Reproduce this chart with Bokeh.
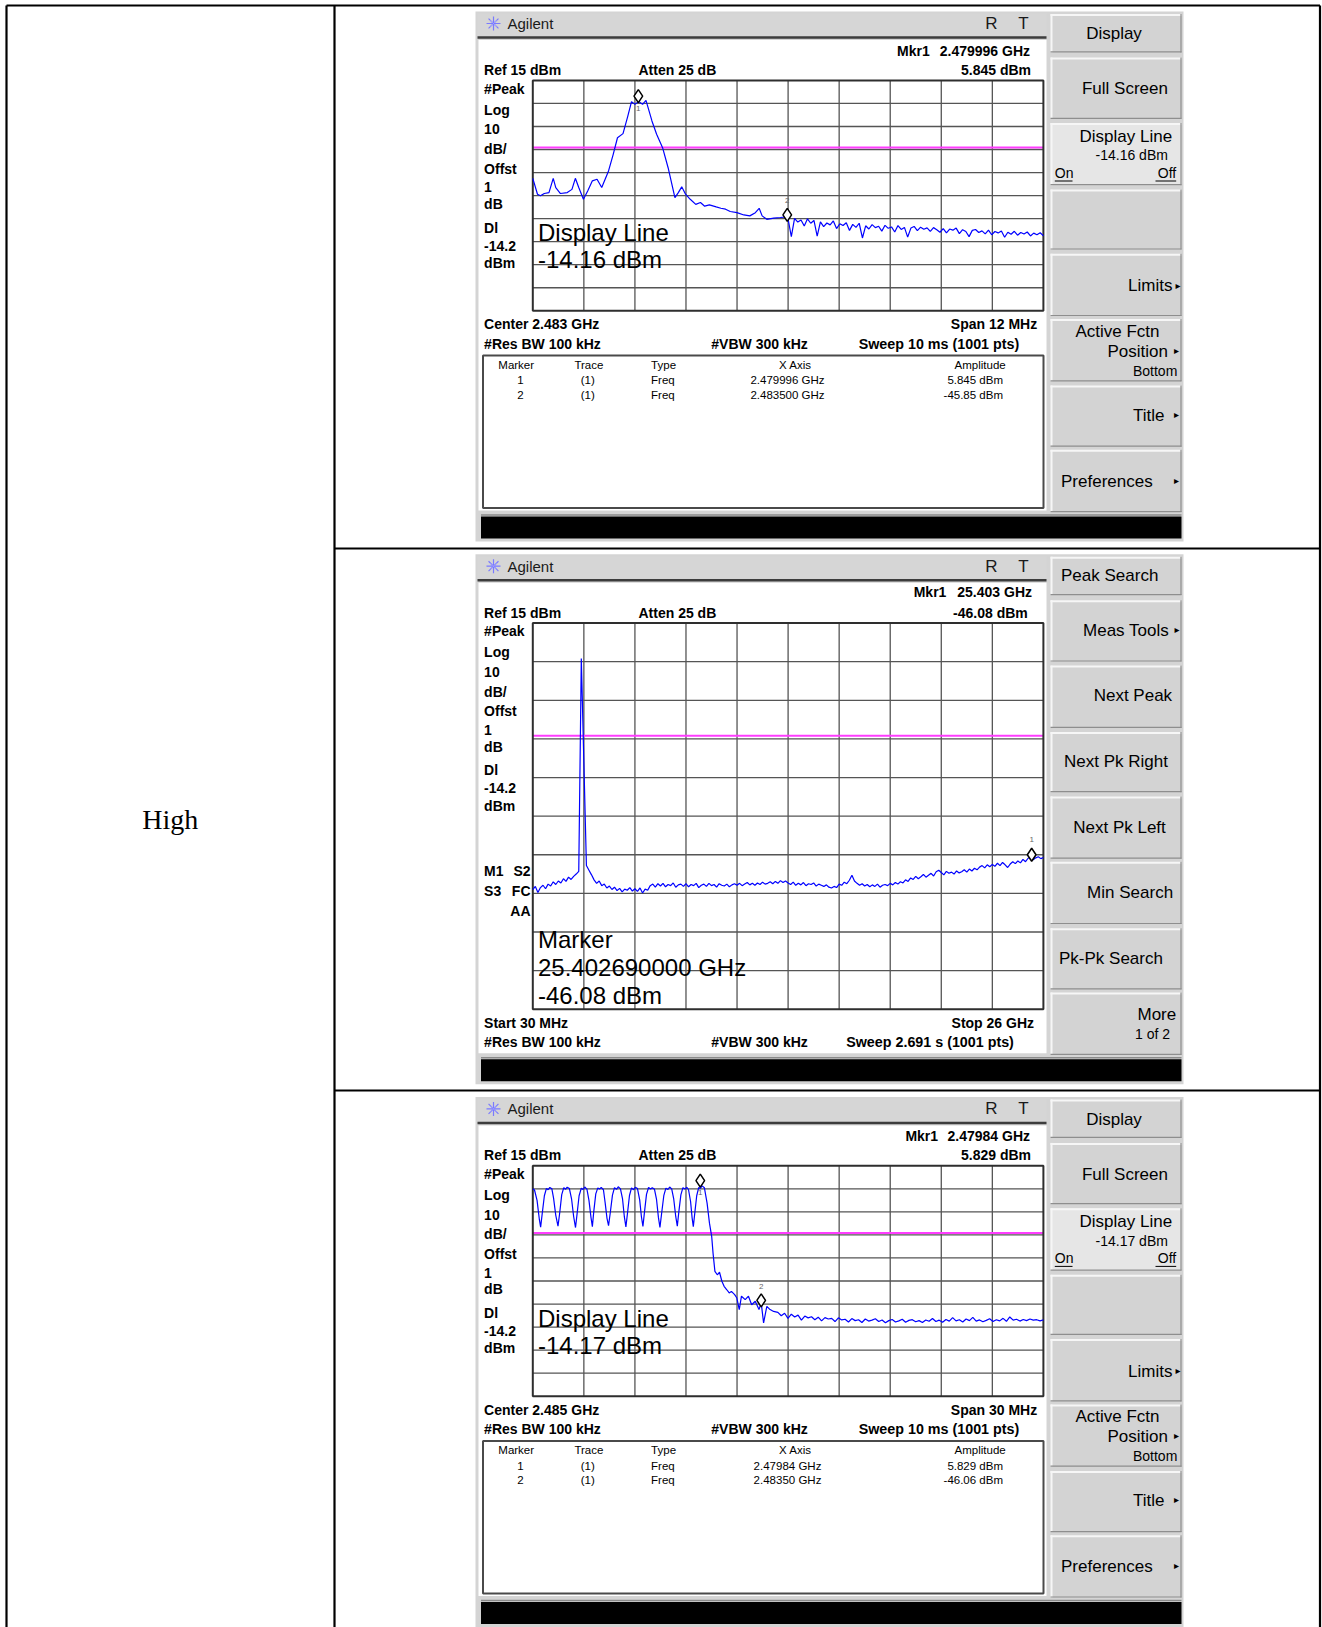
import numpy as np
from bokeh.plotting import figure
from bokeh.models import Range1d
from bokeh.core.properties import value
from bokeh.embed import file_html
from bokeh.resources import INLINE

# ======================= DATA =======================
REF_LEVEL_DBM = 15
DB_PER_DIV = 10
N_DIV = 10

# ---- Panel 1 : Center 2.483 GHz, Span 12 MHz ----
p1_start_mhz, p1_stop_mhz = 2477.0, 2489.0
p1_freq_mhz = [
    2477.00, 2477.11, 2477.18, 2477.27, 2477.38, 2477.48, 2477.54, 2477.65, 2477.81, 2477.92,
    2478.00, 2478.08, 2478.19, 2478.29, 2478.40, 2478.51, 2478.62, 2478.78, 2478.89, 2478.99,
    2479.12, 2479.23, 2479.32, 2479.40, 2479.49, 2479.58, 2479.66, 2479.80, 2479.91, 2480.05,
    2480.18, 2480.34, 2480.42, 2480.50, 2480.59, 2480.70, 2480.83, 2480.94, 2481.04, 2481.15,
    2481.31, 2481.42, 2481.53, 2481.64, 2481.80, 2481.96, 2482.10, 2482.23, 2482.32, 2482.39,
    2482.50, 2482.66, 2482.82, 2482.96]
p1_dbm = [
    -27.5, -34.4, -35.1, -34.1, -33.7, -27.5, -31.5, -34.1, -33.7, -32.3,
    -27.5, -31.5, -36.6, -33.0, -28.6, -27.9, -31.5, -24.3, -17.1, -9.9,
    -8.1, -0.7, 5.8, 4.6, 5.8, 4.6, 6.3, -2.6, -8.4, -14.2,
    -22.9, -35.9, -33.7, -31.2, -34.4, -36.6, -38.8, -38.0, -39.6, -39.0,
    -39.9, -40.5, -40.9, -41.9, -42.4, -43.4, -43.8, -42.4, -40.5, -43.8,
    -45.3, -44.8, -44.5, -44.2]
p1_tail_start_mhz, p1_tail_stop_mhz = 2483.0, 2489.0
p1_tail_dbm = [
    -45.2, -52.8, -44.9, -46.5, -45.6, -48.2, -45.1, -47.0, -45.8, -52.6,
    -46.4, -48.5, -46.9, -47.7, -46.0, -49.3, -47.2, -48.0, -46.8, -50.1,
    -47.5, -48.8, -47.0, -53.4, -48.1, -49.5, -47.6, -48.9, -48.3, -50.4,
    -47.9, -49.2, -48.6, -50.8, -48.0, -49.7, -48.8, -53.0, -49.1, -48.4,
    -50.2, -48.7, -49.6, -49.0, -50.5, -48.9, -49.8, -50.9, -49.3, -51.2,
    -49.5, -50.0, -49.1, -51.5, -49.8, -50.6, -52.8, -50.1, -49.7, -51.0,
    -50.3, -51.6, -50.0, -52.0, -50.6, -51.2, -50.4, -53.1, -50.9, -51.8,
    -50.5, -52.2, -51.0, -51.7, -50.8, -52.5, -51.3, -52.0, -51.1, -52.4]
p1_display_line_dbm = -14.16
p1_marker_freq_mhz = [2479.48, 2482.98]
p1_marker_dbm = [8.2, -43.4]
p1_marker_ids = ["1", "2"]
p1_table = [["1", "(1)", "Freq", "2.479996 GHz", "5.845 dBm"],
            ["2", "(1)", "Freq", "2.483500 GHz", "-45.85 dBm"]]

# ---- Panel 2 : Start 30 MHz, Stop 26 GHz ----
p2_start_mhz, p2_stop_mhz = 30.0, 26000.0
p2_dbm = [
    -54.0, -53.2, -54.8, -53.5, -52.9, -53.8, -52.6, -53.1, -52.0, -52.7,
    -51.8, -52.3, -51.2, -51.9, -50.8, -51.4, -50.6, -50.0, -49.3, 5.8,
    -21.0,
    -47.8, -49.0, -50.2, -51.5, -52.4, -51.8, -53.0, -52.6, -53.6, -53.1,
    -54.0, -53.4, -54.3, -53.7, -54.6, -53.9, -54.2, -53.5, -54.4,
    -53.8, -54.5, -53.6, -54.9, -53.9, -54.2, -53.0, -52.6, -53.4, -52.5,
    -53.1, -52.4, -53.3, -52.7, -53.0, -52.3, -53.4, -52.8, -52.6, -53.2,
    -52.5, -53.3, -52.7, -53.0, -52.4, -53.5, -52.9, -52.6, -53.2, -52.4,
    -53.0, -52.7, -53.4, -52.5, -52.9, -53.1, -52.6, -53.3, -52.8, -52.5,
    -52.9, -52.4, -53.0, -52.6, -52.2, -52.8, -52.4, -52.9, -52.3, -52.7,
    -52.1, -52.6, -52.4, -52.0, -52.5, -51.9, -52.4, -51.7, -52.2, -51.8,
    -52.3, -52.7, -52.1, -52.9, -52.4, -52.8, -52.2, -53.0, -52.5, -52.7,
    -52.3, -53.1, -52.6, -52.9, -53.2, -52.8, -53.4, -53.6, -53.2, -53.5,
    -52.6, -52.9, -52.1, -52.5, -51.6, -50.3, -51.8, -52.4, -52.9, -52.5,
    -53.1, -52.7, -53.3, -52.8, -53.2, -52.6, -53.4, -52.9, -52.7, -53.0,
    -52.4, -52.8, -52.2, -52.6, -52.0, -52.3, -51.5, -51.9, -51.0, -51.4,
    -50.6, -51.2, -50.7, -50.1, -50.8, -50.3, -49.8, -50.5, -49.4, -49.0,
    -49.6, -50.2, -49.3, -49.8, -49.5, -50.0, -49.2, -49.7, -49.4, -48.9,
    -49.5, -48.7, -49.2, -48.5, -48.9, -48.2, -47.8, -48.4, -47.6, -48.1,
    -47.5, -48.0, -47.2, -47.8, -47.0, -47.6, -48.3, -47.4, -46.8, -47.3,
    -46.6, -47.1, -46.2, -46.8, -45.9, -45.6, -46.3, -45.8, -45.5, -46.0, -45.7]
p2_display_line_dbm = -14.2
p2_marker_freq_mhz = [25403.0]
p2_marker_dbm = [-45.0]
p2_marker_ids = ["1"]

# ---- Panel 3 : Center 2.485 GHz, Span 30 MHz ----
p3_start_mhz, p3_stop_mhz = 2470.0, 2500.0
p3_freq_mhz = [
    2470.00, 2470.10, 2470.25, 2470.38, 2470.46, 2470.55, 2470.68, 2470.80, 2470.90, 2471.00,
    2471.12, 2471.22, 2471.35, 2471.48, 2471.58, 2471.70, 2471.82, 2471.92, 2472.02, 2472.15,
    2472.28, 2472.40, 2472.51, 2472.60, 2472.72, 2472.85, 2472.95, 2473.05, 2473.18, 2473.30,
    2473.42, 2473.50, 2473.58, 2473.70, 2473.82, 2473.92, 2474.02, 2474.15, 2474.25, 2474.36,
    2474.45, 2474.55, 2474.68, 2474.80, 2474.92, 2475.02, 2475.15, 2475.27, 2475.38, 2475.47,
    2475.56, 2475.68, 2475.80, 2475.92, 2476.02, 2476.15, 2476.28, 2476.38, 2476.47, 2476.56,
    2476.68, 2476.80, 2476.92, 2477.02, 2477.15, 2477.27, 2477.38, 2477.47, 2477.57, 2477.70,
    2477.82, 2477.94, 2478.04, 2478.16, 2478.28, 2478.40, 2478.49, 2478.58, 2478.70, 2478.82,
    2478.94, 2479.05, 2479.15, 2479.27, 2479.36, 2479.43, 2479.52, 2479.63, 2479.75, 2479.84,
    2479.95, 2480.08, 2480.24, 2480.38, 2480.51, 2480.59, 2480.70, 2480.84, 2480.97, 2481.11,
    2481.24, 2481.40, 2481.54, 2481.67, 2481.86, 2481.99, 2482.13, 2482.26, 2482.48, 2482.67,
    2482.86, 2483.07, 2483.29, 2483.42, 2483.56, 2483.75, 2483.94, 2484.15]
p3_dbm = [
    5.0, 4.5, 0.0, -8.0, -11.6, -6.0, 2.0, 5.2, 4.6, 5.6,
    5.0, 1.0, -6.5, -11.2, -5.5, 2.5, 5.5, 4.8, 5.7, 5.1,
    0.5, -7.0, -11.8, -6.0, 2.0, 5.3, 4.7, 5.8, 4.9, 0.0,
    -7.5, -11.4, -5.0, 2.8, 5.4, 4.9, 5.6, 4.6, -1.0, -7.8,
    -11.0, -5.5, 2.3, 5.5, 4.8, 5.9, 5.0, 0.8, -7.2, -11.5,
    -5.8, 2.1, 5.4, 4.6, 5.7, 5.1, 0.2, -7.0, -11.3, -5.2,
    2.6, 5.6, 4.9, 5.5, 4.8, 0.4, -7.4, -11.7, -5.6, 2.2,
    5.3, 4.7, 5.8, 5.0, 0.6, -7.1, -11.2, -5.0, 2.4, 5.5,
    4.9, 5.7, 4.6, -0.5, -7.6, -11.4, -5.3, 2.0, 5.6, 5.2,
    6.3, 5.5, -1.2, -9.9, -15.6, -22.9, -30.8, -32.3, -31.2, -35.1,
    -37.3, -38.8, -40.2, -39.5, -40.9, -42.4, -47.4, -41.6, -43.1, -41.6,
    -45.3, -43.8, -47.4, -44.5, -53.2, -46.0, -47.4, -48.2]
p3_tail_start_mhz, p3_tail_stop_mhz = 2484.4, 2500.0
p3_tail_dbm = [
    -48.6, -50.1, -49.0, -51.2, -49.4, -50.6, -49.8, -52.0, -50.2, -51.0,
    -50.5, -51.8, -50.7, -52.3, -50.9, -51.5, -51.2, -52.6, -51.0, -51.9,
    -51.6, -52.8, -51.3, -52.2, -51.8, -53.0, -51.5, -52.4, -52.0, -51.4,
    -52.6, -51.9, -53.1, -52.2, -51.7, -52.8, -52.3, -51.6, -52.9, -52.1,
    -51.8, -52.7, -52.2, -53.0, -51.9, -52.5, -51.3, -52.6, -52.0, -52.9,
    -51.7, -52.4, -50.9, -52.3, -51.8, -52.8, -51.5, -52.2, -50.8, -52.4,
    -51.9, -52.7, -52.1, -51.4, -52.6, -51.8, -52.3, -51.2, -52.5, -50.6,
    -52.0, -51.6, -52.4, -51.7, -52.2, -51.5, -52.0, -51.8, -52.3, -51.9]
p3_display_line_dbm = -14.17
p3_marker_freq_mhz = [2479.84, 2483.42]
p3_marker_dbm = [8.6, -43.4]
p3_marker_ids = ["1", "2"]
p3_table = [["1", "(1)", "Freq", "2.47984 GHz", "5.829 dBm"],
            ["2", "(1)", "Freq", "2.48350 GHz", "-46.06 dBm"]]

assert len(p1_freq_mhz) == len(p1_dbm)
assert len(p3_freq_mhz) == len(p3_dbm)

# ======================= LAYOUT =======================
W, H = 1322, 1627
SANS = "Liberation Sans"
SERIF = "Liberation Serif"

p = figure(width=W, height=H, x_range=Range1d(0, W), y_range=Range1d(H, 0),
           output_backend="svg", toolbar_location=None, min_border=0,
           x_axis_location=None, y_axis_location=None,
           margin=(0, 0, 0, 0))
p.xgrid.visible = False
p.ygrid.visible = False
p.outline_line_color = None
p.background_fill_color = "white"
p.border_fill_color = "white"


def Q(l, r, t, b, fill, line=None, lw=1):
    p.quad(left=[l], right=[r], top=[t], bottom=[b], fill_color=fill,
           line_color=line, line_width=lw)


def S(x0, y0, x1, y1, color, lw=1):
    p.segment(x0=[x0], y0=[y0], x1=[x1], y1=[y1], line_color=color, line_width=lw)


def T(x, y, s, size=14, align="left", bold=False, font=SANS, color="#000000",
      baseline="middle"):
    p.text(x=[x], y=[y], text=[s], text_font=value(font),
           text_font_size=f"{size}px",
           text_font_style="bold" if bold else "normal",
           text_align=align, text_baseline=baseline, text_color=color)


GX0, GX1 = 532.3, 1042.9
KX0, KX1 = 1050, 1181
KEYS = [(13.5, 51.9), (57, 118.3), (122.4, 184.7), (188.9, 249), (253.2, 315.5),
        (318.6, 380.8), (385, 446.2), (449.3, 511.6)]
LEFT_LABELS = ["#Peak", "Log", "10", "dB/", "Offst", "1", "dB", "Dl", "-14.2", "dBm"]
LEFT_LABEL_Y = [88, 109, 128.7, 148.4, 168, 186.8, 203.4, 227, 245, 262.5]


def set_ranges(name, f0, f1, gy0, gy1):
    sx = (f1 - f0) / (GX1 - GX0)
    p.extra_x_ranges[name] = Range1d(f0 - GX0 * sx, f0 + (W - GX0) * sx)
    top = REF_LEVEL_DBM
    bot = REF_LEVEL_DBM - N_DIV * DB_PER_DIV
    sy = (top - bot) / (gy1 - gy0)
    p.extra_y_ranges[name] = Range1d(top - (H - gy0) * sy, top + gy0 * sy)


def draw_grid(name, f0, f1, dl):
    top = REF_LEVEL_DBM
    bot = REF_LEVEL_DBM - N_DIV * DB_PER_DIV
    xs = [f0 + i * (f1 - f0) / N_DIV for i in range(1, N_DIV)]
    ys = [top - i * DB_PER_DIV for i in range(1, N_DIV)]
    kw = dict(x_range_name=name, y_range_name=name)
    p.segment(x0=xs, x1=xs, y0=[top] * len(xs), y1=[bot] * len(xs),
              line_color="#555555", line_width=1.3, **kw)
    p.segment(x0=[f0] * len(ys), x1=[f1] * len(ys), y0=ys, y1=ys,
              line_color="#555555", line_width=1.3, **kw)
    p.segment(x0=[f0], x1=[f1], y0=[dl], y1=[dl], line_color="#ff3cff",
              line_width=2, **kw)
    p.quad(left=[f0], right=[f1], top=[top], bottom=[bot], fill_color=None,
           line_color="#2e2e2e", line_width=2, **kw)


def draw_trace(name, freqs, dbms, mk_f, mk_d, mk_ids, mk_offsets):
    kw = dict(x_range_name=name, y_range_name=name)
    p.line(freqs, dbms, line_color="#0000ff", line_width=1.2, **kw)
    p.scatter(mk_f, mk_d, marker="diamond", size=13, fill_color="white",
              line_color="black", line_width=1.5, **kw)
    for f, d, s, o in zip(mk_f, mk_d, mk_ids, mk_offsets):
        p.text(x=[f], y=[d], text=[s], text_font=value(SANS), text_font_size="8px",
               text_align="center", text_baseline="middle", text_color="#666666",
               y_offset=o, **kw)


def draw_frame(off):
    Q(475, 1183, 11 + off, min(541 + off, H), "#d4d4d4")
    Q(477, 1046, 13 + off, 35.5 + off, "#d6d6d6")
    S(477, 37 + off, 1046, 37 + off, "#3c3c3c", 2.5)
    Q(478, 1046, 39.5 + off, 510 + off, "white")
    Q(480.5, 1181, 516 + off, 538 + off, "#000000")
    S(480.5, 514.5 + off, 1181, 514.5 + off, "#8a8a8a", 1.5)
    # Agilent title bar
    p.scatter([493], [23 + off], marker="asterisk", size=14, line_color="#7a7aff", line_width=1.2)
    p.scatter([493], [23 + off], marker="x", size=9, line_color="#a0a0ff", line_width=1)
    T(507, 23 + off, "Agilent", 15, color="#1a1a1a")
    T(991, 23 + off, "R", 17, "center", color="#1a1a1a")
    T(1023, 23 + off, "T", 17, "center", color="#1a1a1a")
    T(483.6, 69.5 + off, "Ref 15 dBm", 14, bold=True)
    T(638, 69.5 + off, "Atten 25 dB", 14, bold=True)
    for s, y in zip(LEFT_LABELS, LEFT_LABEL_Y):
        T(483.6, y + off, s, 14, bold=True)


def draw_keys(off, light_idx=None):
    for i, (a, b) in enumerate(KEYS):
        y0, y1 = a + off, min(b + off, H)
        fill = "#e6e6e6" if i == light_idx else "#d3d3d3"
        Q(KX0, KX1, y0, y1, fill)
        p.segment(x0=[KX0, KX0 + 1], y0=[y0 + 1, y0], x1=[KX1, KX0 + 1], y1=[y0 + 1, y1],
                  line_color="#f6f6f6", line_width=2)
        p.segment(x0=[KX0, KX1 - 0.5], y0=[y1 - 0.5, y0], x1=[KX1, KX1 - 0.5], y1=[y1 - 0.5, y1],
                  line_color="#8e8e8e", line_width=1.2)


def arrow(x, y):
    T(x, y, "\u25b8", 10, "center", font="DejaVu Sans")


def display_keys(off, dl_text):
    draw_keys(off, light_idx=2)
    T(1113.5, 33.2 + off, "Display", 17, "center")
    T(1167.4, 88.2 + off, "Full Screen", 17, "right")
    T(1171.6, 136 + off, "Display Line", 17, "right")
    T(1167.4, 154.6 + off, dl_text, 14, "right")
    T(1054.3, 172.3 + off, "On", 14)
    T(1175.7, 172.3 + off, "Off", 14, "right")
    S(1054.3, 180.5 + off, 1072, 180.5 + off, "#000000", 1)
    S(1155, 180.5 + off, 1175.7, 180.5 + off, "#000000", 1)
    T(1172, 285.4 + off, "Limits", 17, "right")
    arrow(1177.5, 284.5 + off)
    T(1159, 331 + off, "Active Fctn", 17, "right")
    T(1167.4, 350.7 + off, "Position", 17, "right")
    arrow(1176, 349.5 + off)
    T(1176.8, 370.5 + off, "Bottom", 14, "right")
    T(1164, 415 + off, "Title", 17, "right")
    arrow(1176, 414 + off)
    T(1060.5, 480.5 + off, "Preferences", 17)
    arrow(1176, 479.5 + off)


def marker_table(off, rows):
    Q(482.5, 1043, 355 + off, 507.5 + off, "white", "#4a4a4a", 2)
    T(515.7, 364.2 + off, "Marker", 11.5, "center")
    T(588.4, 364.2 + off, "Trace", 11.5, "center")
    T(650.6, 364.2 + off, "Type", 11.5)
    T(794.9, 364.2 + off, "X Axis", 11.5, "center")
    T(979.6, 364.2 + off, "Amplitude", 11.5, "center")
    for r, y in zip(rows, [379.8, 394.3]):
        T(520, y + off, r[0], 11.5, "center")
        T(587.3, y + off, r[1], 11.5, "center")
        T(650.6, y + off, r[2], 11.5)
        T(787, y + off, r[3], 11.5, "center")
        T(1002.5, y + off, r[4], 11.5, "right")


# ---------------- document table ----------------
S(6, 5, 1319.5, 5, "#000000", 2.2)
S(6, 5, 6, H, "#000000", 2.2)
S(334, 5, 334, H, "#000000", 2.2)
S(1319.5, 5, 1319.5, H, "#000000", 2.2)
S(334, 548, 1319.5, 548, "#000000", 2.2)
S(334, 1090, 1319.5, 1090, "#000000", 2.2)
T(141.7, 819, "High", 28, font=SERIF, baseline="alphabetic")

OFF1, OFF2, OFF3 = 0.0, 542.7, 1085.4

# ---------------- Panel 1 ----------------
draw_frame(OFF1)
display_keys(OFF1, "-14.16 dBm")
T(896.6, 50 + OFF1, "Mkr1", 14, bold=True)
T(1029.5, 50 + OFF1, "2.479996 GHz", 14, "right", bold=True)
T(1030.5, 69.5 + OFF1, "5.845 dBm", 14, "right", bold=True)
set_ranges("p1", p1_start_mhz, p1_stop_mhz, 79.9 + OFF1, 310.3 + OFF1)
draw_grid("p1", p1_start_mhz, p1_stop_mhz, p1_display_line_dbm)
p1_all_f = list(p1_freq_mhz) + list(np.linspace(p1_tail_start_mhz, p1_tail_stop_mhz, len(p1_tail_dbm)))
p1_all_d = list(p1_dbm) + list(p1_tail_dbm)
draw_trace("p1", p1_all_f, p1_all_d, p1_marker_freq_mhz, p1_marker_dbm, p1_marker_ids, [12, -14])
T(537.5, 232.4 + OFF1, "Display Line", 24)
T(537.5, 259.4 + OFF1, "-14.16 dBm", 24)
T(483.6, 323.8 + OFF1, "Center 2.483 GHz", 14, bold=True)
T(1036.7, 323.8 + OFF1, "Span 12 MHz", 14, "right", bold=True)
T(483.6, 343.5 + OFF1, "#Res BW 100 kHz", 14, bold=True)
T(710.8, 343.5 + OFF1, "#VBW 300 kHz", 14, bold=True)
T(858.2, 343.5 + OFF1, "Sweep 10 ms (1001 pts)", 14.3, bold=True)
marker_table(OFF1, p1_table)

# ---------------- Panel 2 ----------------
draw_frame(OFF2)
draw_keys(OFF2)
T(1060.5, 575, "Peak Search", 17)
T(1168.5, 630, "Meas Tools", 17, "right")
arrow(1176.5, 629)
T(1171.6, 695.3, "Next Peak", 17, "right")
T(1167.4, 760.6, "Next Pk Right", 17, "right")
T(1165.3, 827, "Next Pk Left", 17, "right")
T(1172.6, 892.4, "Min Search", 17, "right")
T(1058.5, 957.8, "Pk-Pk Search", 17)
T(1175.7, 1013.8, "More", 17, "right")
T(1169.5, 1033.6, "1 of 2", 14, "right")
T(913.2, 48.8 + OFF2, "Mkr1", 14, bold=True)
T(1031.5, 48.8 + OFF2, "25.403 GHz", 14, "right", bold=True)
T(1027.3, 69.5 + OFF2, "-46.08 dBm", 14, "right", bold=True)
T(483.6, 327.9 + OFF2, "M1", 14, bold=True)
T(530, 327.9 + OFF2, "S2", 14, "right", bold=True)
T(483.6, 347.6 + OFF2, "S3", 14, bold=True)
T(530, 347.6 + OFF2, "FC", 14, "right", bold=True)
T(530, 367.3 + OFF2, "AA", 14, "right", bold=True)
set_ranges("p2", p2_start_mhz, p2_stop_mhz, 79.9 + OFF2, 466.0 + OFF2)
draw_grid("p2", p2_start_mhz, p2_stop_mhz, p2_display_line_dbm)
p2_freq = list(np.linspace(p2_start_mhz, p2_stop_mhz, len(p2_dbm)))
draw_trace("p2", p2_freq, p2_dbm, p2_marker_freq_mhz, p2_marker_dbm, p2_marker_ids, [-15])
T(537.5, 396.3 + OFF2, "Marker", 24)
T(537.5, 424.3 + OFF2, "25.402690000 GHz", 24)
T(537.5, 452.3 + OFF2, "-46.08 dBm", 24)
T(483.6, 479.3 + OFF2, "Start 30 MHz", 14, bold=True)
T(1033.5, 479.3 + OFF2, "Stop 26 GHz", 14, "right", bold=True)
T(483.6, 499.2 + OFF2, "#Res BW 100 kHz", 14, bold=True)
T(710.8, 499.2 + OFF2, "#VBW 300 kHz", 14, bold=True)
T(845.7, 499.2 + OFF2, "Sweep 2.691 s (1001 pts)", 14.3, bold=True)

# ---------------- Panel 3 ----------------
draw_frame(OFF3)
display_keys(OFF3, "-14.17 dBm")
T(904.9, 50 + OFF3, "Mkr1", 14, bold=True)
T(1029.5, 50 + OFF3, "2.47984 GHz", 14, "right", bold=True)
T(1030.5, 69.5 + OFF3, "5.829 dBm", 14, "right", bold=True)
set_ranges("p3", p3_start_mhz, p3_stop_mhz, 79.9 + OFF3, 310.3 + OFF3)
draw_grid("p3", p3_start_mhz, p3_stop_mhz, p3_display_line_dbm)
p3_all_f = list(p3_freq_mhz) + list(np.linspace(p3_tail_start_mhz, p3_tail_stop_mhz, len(p3_tail_dbm)))
p3_all_d = list(p3_dbm) + list(p3_tail_dbm)
draw_trace("p3", p3_all_f, p3_all_d, p3_marker_freq_mhz, p3_marker_dbm, p3_marker_ids, [12, -14])
T(537.5, 232.4 + OFF3, "Display Line", 24)
T(537.5, 259.4 + OFF3, "-14.17 dBm", 24)
T(483.6, 323.8 + OFF3, "Center 2.485 GHz", 14, bold=True)
T(1036.7, 323.8 + OFF3, "Span 30 MHz", 14, "right", bold=True)
T(483.6, 343.5 + OFF3, "#Res BW 100 kHz", 14, bold=True)
T(710.8, 343.5 + OFF3, "#VBW 300 kHz", 14, bold=True)
T(858.2, 343.5 + OFF3, "Sweep 10 ms (1001 pts)", 14.3, bold=True)
marker_table(OFF3, p3_table)

open("out.html", "w").write(file_html(p, INLINE))
